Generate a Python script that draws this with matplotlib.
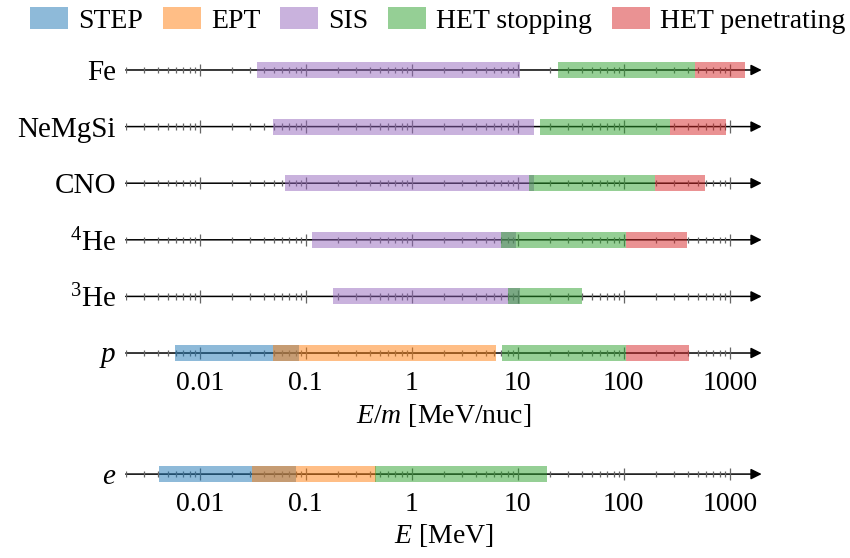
import matplotlib
matplotlib.use("Agg")
import matplotlib.pyplot as plt
from matplotlib.patches import Patch
import numpy as np

plt.rcParams['font.family'] = 'serif'
plt.rcParams['font.serif'] = ['Liberation Serif', 'DejaVu Serif']
plt.rcParams['mathtext.fontset'] = 'custom'
plt.rcParams['mathtext.rm'] = 'Liberation Serif'
plt.rcParams['mathtext.it'] = 'Liberation Serif:italic'

# ion rows, bottom to top
ions = ['$p$', '$^{3}$He', '$^{4}$He', 'CNO', 'NeMgSi', 'Fe']

# energy ranges per instrument, MeV/nuc (row index into ions)
step_rows = [0]
step_lo = [0.0058]
step_hi = [0.0858]

ept_rows = [0]
ept_lo = [0.0488]
ept_hi = [6.18]

sis_rows = [1, 2, 3, 4, 5]
sis_lo = [0.18, 0.114, 0.0633, 0.0488, 0.0345]
sis_hi = [10.4, 9.53, 14.1, 14.1, 10.4]

hets_rows = [0, 1, 2, 3, 4, 5]
hets_lo = [7.04, 8.0, 6.88, 12.65, 16.1, 23.7]
hets_hi = [106, 40, 104, 199, 270, 472]

hetp_rows = [0, 2, 3, 4, 5]
hetp_lo = [106, 104, 199, 270, 472]
hetp_hi = [408, 399, 590, 931, 1406]

# electrons, MeV
e_step = (0.0041, 0.0804)
e_ept = (0.0309, 0.456)
e_het = (0.447, 18.7)

labels = ['STEP', 'EPT', 'SIS', 'HET stopping', 'HET penetrating']
colors = ['tab:blue', 'tab:orange', 'tab:purple', 'tab:green', 'tab:red']

xmin, xmax = 0.002, 2000
decades = [0.01, 0.1, 1, 10, 100, 1000]
minor = [m * 10.0**k for k in range(-3, 3) for m in range(2, 10)]
minor = [v for v in minor if v >= xmin]

FS = 20
BH = 0.283

fig = plt.figure(figsize=(8.5, 5.58), dpi=100)
ax = fig.add_axes([0.1479, 0.342, 0.7482, 0.5833])
ax2 = fig.add_axes([0.1479, 0.125, 0.7482, 0.0761])


def row_axis(a, y):
    a.annotate('', xy=(xmax, y), xytext=(xmin, y),
               arrowprops=dict(arrowstyle='-|>', color='black', lw=1.1,
                               mutation_scale=16, shrinkA=0, shrinkB=0),
               zorder=1)
    a.vlines(minor, y - 0.055, y + 0.055, color='0.4', lw=0.9, zorder=1)
    a.vlines(decades, y - 0.11, y + 0.11, color='0.4', lw=0.9, zorder=1)


for i in range(len(ions)):
    row_axis(ax, i)
row_axis(ax2, 0)

ranges = [(step_rows, step_lo, step_hi), (ept_rows, ept_lo, ept_hi),
          (sis_rows, sis_lo, sis_hi), (hets_rows, hets_lo, hets_hi),
          (hetp_rows, hetp_lo, hetp_hi)]
for (rows, lo, hi), c in zip(ranges, colors):
    lo = np.array(lo)
    hi = np.array(hi)
    ax.barh(rows, hi - lo, left=lo, height=BH, color=c, alpha=0.5,
            lw=0, zorder=2)

for (lo, hi), c in zip([e_step, e_ept, e_het], colors[:2] + [colors[3]]):
    ax2.barh([0], [hi - lo], left=[lo], height=BH, color=c, alpha=0.5,
             lw=0, zorder=2)

for a in (ax, ax2):
    a.set_xscale('log')
    a.set_xlim(xmin, xmax)
    for s in a.spines.values():
        s.set_visible(False)
    a.set_xticks(decades)
    a.set_xticklabels(['0.01', '0.1', '1', '10', '100', '1000'])
    a.xaxis.set_minor_locator(matplotlib.ticker.NullLocator())
    a.tick_params(axis='x', length=0, pad=3, labelsize=FS)
    a.tick_params(axis='y', length=0, pad=7, labelsize=FS + 1)
    a.patch.set_visible(False)

ax.set_ylim(-0.25, 5.5)
ax.set_yticks(range(len(ions)))
ax.set_yticklabels(ions)
ax.set_xlabel('$E/m$ [MeV/nuc]', fontsize=FS, labelpad=4)

ax2.set_ylim(-0.25, 0.5)
ax2.set_yticks([0])
ax2.set_yticklabels(['$e$'])
ax2.set_xlabel('$E$ [MeV]', fontsize=FS, labelpad=3)

handles = [Patch(facecolor=c, alpha=0.5, lw=0) for c in colors]
fig.legend(handles, labels, loc='upper center', bbox_to_anchor=(0.515, 1.017),
           ncol=5, frameon=False, fontsize=FS, handlelength=1.37,
           handleheight=0.85, handletextpad=0.36, columnspacing=0.72,
           borderaxespad=0.2)

fig.savefig('out.png', dpi=100)
